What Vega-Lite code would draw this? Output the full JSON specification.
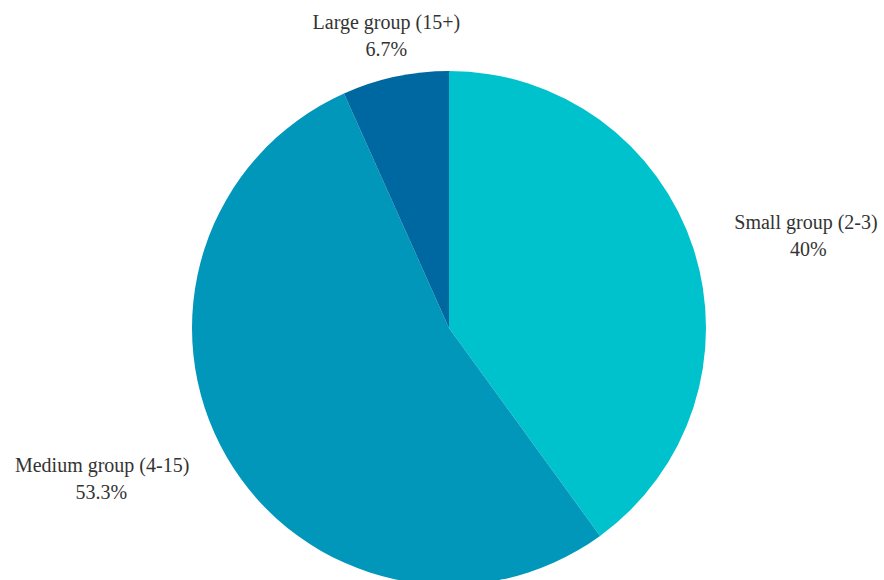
{
  "$schema": "https://vega.github.io/schema/vega-lite/v6.json",
  "width": 870,
  "height": 504,
  "autosize": {"type": "none"},
  "padding": {"left": 14, "top": 76, "right": 0, "bottom": 0},
  "background": "white",
  "data": {
    "values": [
      {"rank": 1, "group": "Small group (2-3)", "share": 40, "pct": "40%"},
      {"rank": 2, "group": "Medium group (4-15)", "share": 53.3, "pct": "53.3%"},
      {"rank": 3, "group": "Large group (15+)", "share": 6.7, "pct": "6.7%"}
    ]
  },
  "encoding": {
    "theta": {"field": "share", "type": "quantitative", "stack": true},
    "order": {"field": "rank", "type": "quantitative"}
  },
  "layer": [
    {
      "mark": {"type": "arc", "radius": 257, "stroke": null},
      "encoding": {
        "color": {
          "field": "group",
          "type": "nominal",
          "scale": {
            "domain": ["Small group (2-3)", "Medium group (4-15)", "Large group (15+)"],
            "range": ["#00c2cc", "#0097ba", "#0068a0"]
          },
          "legend": null
        }
      }
    },
    {
      "mark": {
        "type": "text",
        "radius": 300,
        "dy": -12,
        "font": "Liberation Serif",
        "fontSize": 20,
        "fill": "#333333",
        "baseline": "middle",
        "align": {"expr": "datum.rank == 1 ? 'left' : datum.rank == 2 ? 'right' : 'center'"}
      },
      "encoding": {"text": {"field": "group", "type": "nominal"}}
    },
    {
      "mark": {
        "type": "text",
        "radius": 300,
        "dy": 15,
        "font": "Liberation Serif",
        "fontSize": 20,
        "fill": "#333333",
        "baseline": "middle",
        "align": "center",
        "dx": {"expr": "datum.rank == 1 ? 74 : datum.rank == 2 ? -88 : 0"}
      },
      "encoding": {"text": {"field": "pct", "type": "nominal"}}
    }
  ]
}
